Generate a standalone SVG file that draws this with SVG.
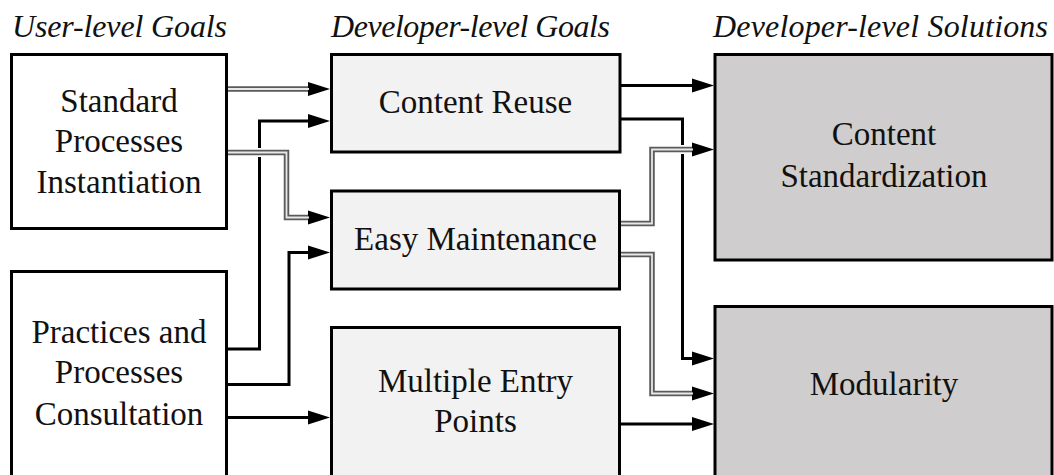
<svg xmlns="http://www.w3.org/2000/svg" width="1054" height="475" viewBox="0 0 1054 475">
  <defs>
    <marker id="arrow" markerUnits="userSpaceOnUse" markerWidth="24" markerHeight="16" refX="1" refY="7" orient="auto" overflow="visible">
      <path d="M0,0 L22,7 L0,14 Z" fill="#000"/>
    </marker>
    <style>
      .box { stroke: #000; stroke-width: 3; }
      .user { fill: #fff; }
      .goal { fill: #f2f2f2; }
      .sol { fill: #cfcdce; }
      text { font-family: 'Liberation Serif', 'Times New Roman', serif; font-size: 33px; fill: #111; }
      .label { text-anchor: middle; }
      .caption { font-style: italic; font-size: 32px; }
      .solid { fill: none; stroke: #000; stroke-width: 3; }
      .halo { fill: none; stroke: #fff; stroke-width: 9; }
      .rail { fill: none; stroke: #5a5a5a; stroke-width: 5.5; }
      .core { fill: none; stroke: #e8e8e8; stroke-width: 1.8; }
    </style>
  </defs>

  <rect width="1054" height="475" fill="#fff"/>

  <!-- column headings -->
  <g id="headings">
    <text class="caption" x="12" y="37" textLength="215">User-level Goals</text>
    <text class="caption" x="331" y="37" textLength="279">Developer-level Goals</text>
    <text class="caption" x="713" y="37" textLength="335">Developer-level Solutions</text>
  </g>

  <!-- connectors: solid links first, then double links drawn on top with a white halo -->
  <g id="connectors">
    <path class="solid" d="M226.5,349 H259.5 V121 H309" marker-end="url(#arrow)"/>
    <path class="solid" d="M226.5,384.5 H289 V252.5 H309" marker-end="url(#arrow)"/>
    <path class="solid" d="M226.5,417.5 H309" marker-end="url(#arrow)"/>
    <path class="solid" d="M620,85.5 H693" marker-end="url(#arrow)"/>
    <path class="solid" d="M620,119 H682.5 V358.5 H693" marker-end="url(#arrow)"/>
    <path class="solid" d="M619.5,424 H693" marker-end="url(#arrow)"/>

    <path class="halo" d="M228,89 H309"/>
    <path class="rail" d="M226.5,89 H309" marker-end="url(#arrow)"/>
    <path class="core" d="M226.5,89 H309"/>

    <path class="halo" d="M228,152.5 H286.5 V217.5 H309"/>
    <path class="rail" d="M226.5,152.5 H286.5 V217.5 H309" marker-end="url(#arrow)"/>
    <path class="core" d="M226.5,152.5 H286.5 V217.5 H309"/>

    <path class="halo" d="M621,223.5 H652 V149.5 H693"/>
    <path class="rail" d="M619.5,223.5 H652 V149.5 H693" marker-end="url(#arrow)"/>
    <path class="core" d="M619.5,223.5 H652 V149.5 H693"/>

    <path class="halo" d="M621,254.5 H652 V393.5 H693"/>
    <path class="rail" d="M619.5,254.5 H652 V393.5 H693" marker-end="url(#arrow)"/>
    <path class="core" d="M619.5,254.5 H652 V393.5 H693"/>
  </g>

  <!-- user-level goals -->
  <g id="standard-processes-instantiation">
    <rect class="box user" x="11.5" y="54.5" width="215" height="174"/>
    <text class="label" x="119" y="112">Standard</text>
    <text class="label" x="119" y="152">Processes</text>
    <text class="label" x="119" y="193">Instantiation</text>
  </g>
  <g id="practices-processes-consultation">
    <rect class="box user" x="11.5" y="271.5" width="215" height="215"/>
    <text class="label" x="119" y="343">Practices and</text>
    <text class="label" x="119" y="383">Processes</text>
    <text class="label" x="119" y="425">Consultation</text>
  </g>

  <!-- developer-level goals -->
  <g id="content-reuse">
    <rect class="box goal" x="331.5" y="54.5" width="288.5" height="97.5"/>
    <text class="label" x="475.5" y="113">Content Reuse</text>
  </g>
  <g id="easy-maintenance">
    <rect class="box goal" x="331.5" y="191" width="288" height="98"/>
    <text class="label" x="475.5" y="250">Easy Maintenance</text>
  </g>
  <g id="multiple-entry-points">
    <rect class="box goal" x="331.5" y="327.5" width="288" height="160"/>
    <text class="label" x="475.5" y="392">Multiple Entry</text>
    <text class="label" x="475.5" y="432">Points</text>
  </g>

  <!-- developer-level solutions -->
  <g id="content-standardization">
    <rect class="box sol" x="715" y="54.5" width="337" height="205.5"/>
    <text class="label" x="884" y="145">Content</text>
    <text class="label" x="884" y="187">Standardization</text>
  </g>
  <g id="modularity">
    <rect class="box sol" x="715" y="306.5" width="337" height="180"/>
    <text class="label" x="884" y="395">Modularity</text>
  </g>
</svg>
